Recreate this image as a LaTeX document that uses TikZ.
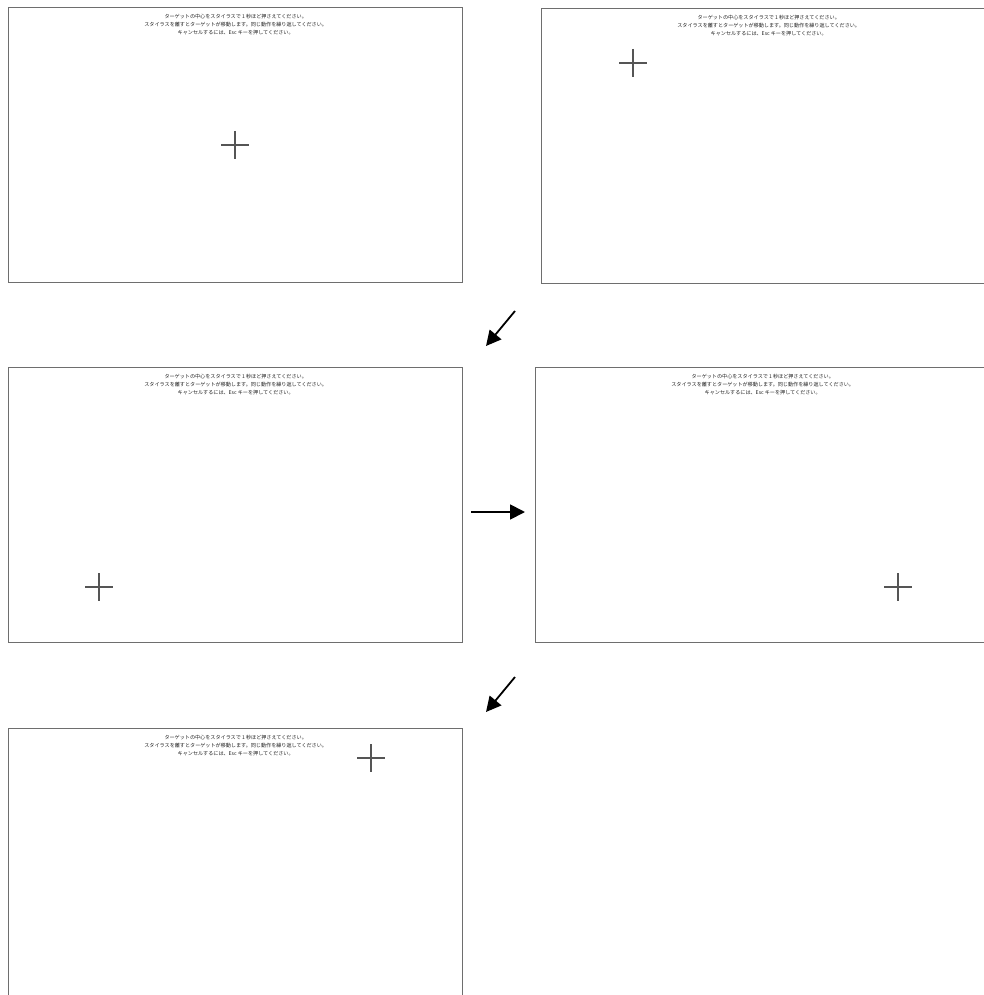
\documentclass[tikz,border=0pt]{standalone}
\usepackage{fontspec}
\newfontfamily\jpfont{Noto Sans CJK JP}
\usetikzlibrary{arrows.meta}
\definecolor{panelgray}{HTML}{6E6E6E}
\definecolor{crossgray}{HTML}{555555}
\definecolor{msgtext}{HTML}{202020}
\begin{document}
\begin{tikzpicture}[x=1pt,y=-1pt,
  panel/.style={draw=panelgray, line width=1.4pt, minimum width=454pt, minimum height=275pt, inner sep=0pt, anchor=north west, fill=white},
  msg/.style={font=\jpfont\fontsize{5.1}{8}\selectfont, align=center, anchor=north, inner sep=0pt, text=msgtext},
  crossline/.style={draw=crossgray, line width=1.1pt},
  flow/.style={line width=1.8pt, -{Triangle[length=15pt,width=15pt]}}]
\clip (0,0) rectangle (984,995);
\fill[white] (0,0) rectangle (984,995);
% panels
\node[panel] (p1) at (8,7) {};
\node[panel] (p2) at (541,8) {};
\node[panel] (p3) at (8,367) {};
\node[panel] (p4) at (535,367) {};
\node[panel] (p5) at (8,728) {};
% messages
\foreach \p in {p1,p2,p3,p4,p5}{
  \node[msg] (\p msg) at ([yshift=-7pt]\p.north) {ターゲットの中心をスタイラスで 1 秒ほど押さえてください。\\スタイラスを離すとターゲットが移動します。同じ動作を繰り返してください。\\キャンセルするには、Esc キーを押してください。};
}
% target crosses
\coordinate (c1) at ([shift={(227,138)}]p1.north west);
\coordinate (c2) at ([shift={(92,55)}]p2.north west);
\coordinate (c3) at ([shift={(91,220)}]p3.north west);
\coordinate (c4) at ([shift={(363,220)}]p4.north west);
\coordinate (c5) at ([shift={(363,30)}]p5.north west);
\foreach \c in {c1,c2,c3,c4,c5}{
  \draw[crossline] (\c) ++(-14,0) -- ++(28,0) (\c) ++(0,-14) -- ++(0,28);
}
% arrows
\coordinate (a1s) at (515,311);
\coordinate (a1e) at (486,346);
\coordinate (a2s) at (471,512);
\coordinate (a2e) at (525,512);
\coordinate (a3s) at (515,677);
\coordinate (a3e) at (486,712);
\draw[flow] (a1s) -- (a1e);
\draw[flow] (a2s) -- (a2e);
\draw[flow] (a3s) -- (a3e);
\end{tikzpicture}
\end{document}
